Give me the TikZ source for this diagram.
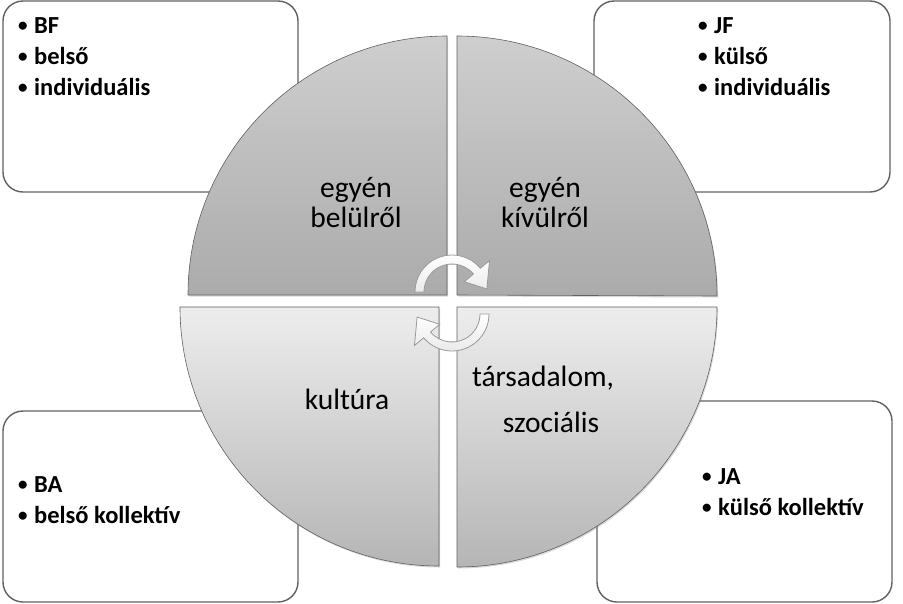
\documentclass[tikz,border=0pt]{standalone}
\usepackage{fontspec}
\setmainfont{Carlito}
\usetikzlibrary{shadows}

\newcommand{\pont}{\makebox[16pt][l]{\raisebox{1.6pt}{\fontsize{19}{19}\selectfont\textbullet}}}

\begin{document}
\begin{tikzpicture}[x=1pt,y=-1pt,
    doboz/.style={draw=black!62,line width=1.4pt,rounded corners=20pt,fill=white,minimum width=295pt},
    lista/.style={font=\fontsize{24.5}{31}\selectfont\bfseries,anchor=base west,inner sep=0pt},
    cimke/.style={font=\fontsize{29.5}{30}\selectfont,align=center,inner sep=0pt},
    negyed/.style={draw=black!62,line width=0.6pt,drop shadow={shadow xshift=1pt,shadow yshift=-1.5pt,opacity=0.3}},
    nyil/.style={draw=black!40,line width=0.8pt,top color=white,bottom color=black!8}]
        %szinek
        \colorlet{sotet}{black!19}
        \colorlet{sotetalj}{black!33}
        \colorlet{vilagos}{black!7}
        \colorlet{vilagosalj}{black!29}

        \useasboundingbox[fill=white] (0,0) rectangle (903,603);

        % sarokdobozok
        \node[doboz,minimum height=191pt] (bf) at (150.5,96.5) {};
        \node[doboz,minimum width=296pt,minimum height=191pt] (jf) at (742,96.5) {};
        \node[doboz,minimum height=191pt] (ba) at (150.5,506.5) {};
        \node[doboz,minimum height=201pt] (ja) at (744.5,501.5) {};

        % felsorolasok
        \foreach \y/\szoveg in {33/BF,64/belső,95/individuális}
            \node[lista] (bf-\y) at (18,\y) {\pont\szoveg};
        \foreach \y/\szoveg in {33/JF,64/külső,95/individuális}
            \node[lista] (jf-\y) at (698,\y) {\pont\szoveg};
        \foreach \y/\szoveg in {492/BA,523/belső kollektív}
            \node[lista] (ba-\y) at (18,\y) {\pont\szoveg};
        \foreach \y/\szoveg in {484/JA,515/külső kollektív}
            \node[lista] (ja-\y) at (702,\y) {\pont\szoveg};

        % negyedkorok
        \path[negyed,top color=sotet,bottom color=sotetalj]
            (447,295) -- (188,295) arc[start angle=180,end angle=270,radius=259] -- cycle;
        \path[negyed,top color=sotet,bottom color=sotetalj]
            (457,295) -- (457,36) arc[start angle=270,end angle=360,radius=260] -- cycle;
        \path[negyed,top color=vilagos,bottom color=vilagosalj]
            (439,307) -- (180,307) arc[start angle=180,end angle=90,radius=259] -- cycle;
        \path[negyed,top color=vilagos,bottom color=vilagosalj]
            (457,307) -- (717,307) arc[start angle=0,end angle=90,radius=260] -- cycle;

        % feliratok
        \node[cimke] (belul) at (356,203) {egyén\\belülről};
        \node[cimke] (kivul) at (545,203) {egyén\\kívülről};
        \node[cimke] (kultura) at (347,399) {kultúra};
        \node[cimke,font=\fontsize{29.5}{46}\selectfont] (tarsadalom) at (543,399) {társadalom,\\\hspace*{16pt}szociális};

        % korbe mutato nyilak
        \coordinate (fk) at (452,292);
        \coordinate (ak) at (452,314);
        \path[nyil] ([shift={(fk)}]180:37) arc[start angle=180,end angle=320,radius=37]
            -- ([shift={(fk)}]320:49) -- ([shift={(fk)}]355:35) -- ([shift={(fk)}]320:16)
            -- ([shift={(fk)}]320:28) arc[start angle=320,end angle=180,radius=28] -- cycle;
        \path[nyil] ([shift={(ak)}]0:37) arc[start angle=0,end angle=140,radius=37]
            -- ([shift={(ak)}]140:49) -- ([shift={(ak)}]175:35) -- ([shift={(ak)}]140:16)
            -- ([shift={(ak)}]140:28) arc[start angle=140,end angle=0,radius=28] -- cycle;
    \end{tikzpicture}
\end{document}
